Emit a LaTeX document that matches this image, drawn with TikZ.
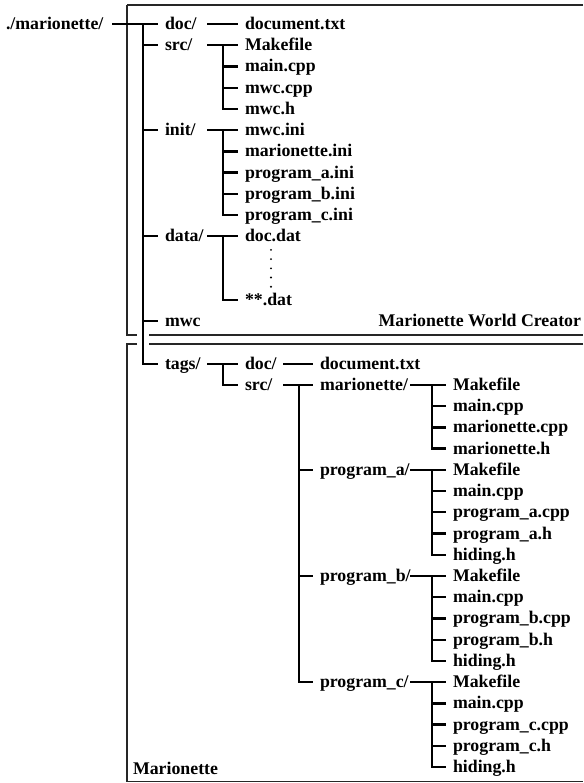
\documentclass[tikz,border=0pt]{standalone}
\usepackage{fontspec}
\setmainfont{Liberation Serif}
\begin{document}
\begin{tikzpicture}[x=1pt,y=-1pt,
  lbl/.style={anchor=west, inner sep=0pt, outer sep=0pt, text height=12pt, text depth=1pt, font=\fontsize{17.8}{21}\selectfont\bfseries},
  tree/.style={line width=2.3pt},
  boxline/.style={line width=1.5pt, draw=black!85}]
\useasboundingbox (0,0) rectangle (583,783);

% frames
\draw[boxline, line width=2pt] (583,5) -- (127,5);
\draw[boxline] (127,5) -- (127,335) -- (137,335);
\draw[boxline] (149,335) -- (583,335);
\draw[boxline] (583,344) -- (149,344);
\draw[boxline] (137,344) -- (127,344) -- (127,781.5) -- (583,781.5);

\begin{scope}[y=-21.23pt, yshift=-24pt]
% column coordinates
\coordinate (s0) at (112,0);  \coordinate (v0) at (143,0);
\coordinate (s1) at (207,0);  \coordinate (v1) at (223,0);
\coordinate (s2) at (283,0);  \coordinate (v2) at (299,0);
\coordinate (s3) at (410,0);  \coordinate (v3) at (432,0);

% root
\node[lbl] (root) at (6,0) {./marionette/};
% level 1
\node[lbl] (doc)  at (165,0)  {doc/};
\node[lbl] (src)  at (165,1)  {src/};
\node[lbl] (init) at (165,5)  {init/};
\node[lbl] (data) at (165,10) {data/};
\node[lbl] (mwc)  at (165,14) {mwc};
\node[lbl] (tags) at (165,16) {tags/};
% level 2
\node[lbl] (doctxt) at (245,0) {document.txt};
\node[lbl] (sMake) at (245,1) {Makefile};
\node[lbl] (sMain) at (245,2) {main.cpp};
\node[lbl] (sCpp)  at (245,3) {mwc.cpp};
\node[lbl] (sH)    at (245,4) {mwc.h};
\node[lbl] (iMwc)  at (245,5) {mwc.ini};
\node[lbl] (iMar)  at (245,6) {marionette.ini};
\node[lbl] (iA)    at (245,7) {program\_a.ini};
\node[lbl] (iB)    at (245,8) {program\_b.ini};
\node[lbl] (iC)    at (245,9) {program\_c.ini};
\node[lbl] (dDoc)  at (245,10) {doc.dat};
\node[lbl] (dAll)  at (245,13) {**.dat};
\node[lbl] (tdoc)  at (245,16) {doc/};
\node[lbl] (tsrc)  at (245,17) {src/};
% level 3
\node[lbl] (tdoctxt) at (320,16) {document.txt};
\node[lbl] (mar) at (320,17) {marionette/};
\node[lbl] (pa)  at (320,21) {program\_a/};
\node[lbl] (pb)  at (320,26) {program\_b/};
\node[lbl] (pc)  at (320,31) {program\_c/};
% level 4
\node[lbl] (mMake) at (453,17) {Makefile};
\node[lbl] (mMain) at (453,18) {main.cpp};
\node[lbl] (mCpp)  at (453,19) {marionette.cpp};
\node[lbl] (mH)    at (453,20) {marionette.h};
\node[lbl] (aMake) at (453,21) {Makefile};
\node[lbl] (aMain) at (453,22) {main.cpp};
\node[lbl] (aCpp)  at (453,23) {program\_a.cpp};
\node[lbl] (aH)    at (453,24) {program\_a.h};
\node[lbl] (aHid)  at (453,25) {hiding.h};
\node[lbl] (bMake) at (453,26) {Makefile};
\node[lbl] (bMain) at (453,27) {main.cpp};
\node[lbl] (bCpp)  at (453,28) {program\_b.cpp};
\node[lbl] (bH)    at (453,29) {program\_b.h};
\node[lbl] (bHid)  at (453,30) {hiding.h};
\node[lbl] (cMake) at (453,31) {Makefile};
\node[lbl] (cMain) at (453,32) {main.cpp};
\node[lbl] (cCpp)  at (453,33) {program\_c.cpp};
\node[lbl] (cH)    at (453,34) {program\_c.h};
\node[lbl] (cHid)  at (453,35) {hiding.h};

% captions
\node[lbl, anchor=east] (mwcap) at (581,14) {Marionette World Creator};
\node[lbl] (mcap) at (133,35.1) {Marionette};

% dots
\foreach \k in {0,...,4} \fill (271,{10.64+0.435*\k}) circle (1.1pt);

% connectors: root
\draw[tree] (root.east -| s0) -- ([xshift=-7pt]doc.west);
\draw[tree] (doc.west -| v0) |- ([xshift=-7pt]tags.west);
\foreach \c in {src,init,data,mwc}
  \draw[tree] (\c.west -| v0) -- ([xshift=-7pt]\c.west);

% level 1 -> 2
\draw[tree] (doc.east -| s1) -- ([xshift=-7pt]doctxt.west);
\draw[tree] (src.east -| s1) -- ([xshift=-7pt]sMake.west);
\draw[tree] (sMake.west -| v1) |- ([xshift=-7pt]sH.west);
\foreach \c in {sMain,sCpp}
  \draw[tree] (\c.west -| v1) -- ([xshift=-7pt]\c.west);
\draw[tree] (init.east -| s1) -- ([xshift=-7pt]iMwc.west);
\draw[tree] (iMwc.west -| v1) |- ([xshift=-7pt]iC.west);
\foreach \c in {iMar,iA,iB}
  \draw[tree] (\c.west -| v1) -- ([xshift=-7pt]\c.west);
\draw[tree] (data.east -| s1) -- ([xshift=-7pt]dDoc.west);
\draw[tree] (dDoc.west -| v1) |- ([xshift=-7pt]dAll.west);
\draw[tree] (tags.east -| s1) -- ([xshift=-7pt]tdoc.west);
\draw[tree] (tdoc.west -| v1) |- ([xshift=-7pt]tsrc.west);

% level 2 -> 3
\draw[tree] (tdoc.east -| s2) -- ([xshift=-7pt]tdoctxt.west);
\draw[tree] (tsrc.east -| s2) -- ([xshift=-7pt]mar.west);
\draw[tree] (mar.west -| v2) |- ([xshift=-7pt]pc.west);
\foreach \c in {pa,pb}
  \draw[tree] (\c.west -| v2) -- ([xshift=-7pt]\c.west);

% level 3 -> 4
\draw[tree] (mar.east -| s3) -- ([xshift=-7pt]mMake.west);
\draw[tree] (mMake.west -| v3) |- ([xshift=-7pt]mH.west);
\foreach \c in {mMain,mCpp}
  \draw[tree] (\c.west -| v3) -- ([xshift=-7pt]\c.west);
\draw[tree] (pa.east -| s3) -- ([xshift=-7pt]aMake.west);
\draw[tree] (aMake.west -| v3) |- ([xshift=-7pt]aHid.west);
\foreach \c in {aMain,aCpp,aH}
  \draw[tree] (\c.west -| v3) -- ([xshift=-7pt]\c.west);
\draw[tree] (pb.east -| s3) -- ([xshift=-7pt]bMake.west);
\draw[tree] (bMake.west -| v3) |- ([xshift=-7pt]bHid.west);
\foreach \c in {bMain,bCpp,bH}
  \draw[tree] (\c.west -| v3) -- ([xshift=-7pt]\c.west);
\draw[tree] (pc.east -| s3) -- ([xshift=-7pt]cMake.west);
\draw[tree] (cMake.west -| v3) |- ([xshift=-7pt]cHid.west);
\foreach \c in {cMain,cCpp,cH}
  \draw[tree] (\c.west -| v3) -- ([xshift=-7pt]\c.west);
\end{scope}
\end{tikzpicture}
\end{document}
